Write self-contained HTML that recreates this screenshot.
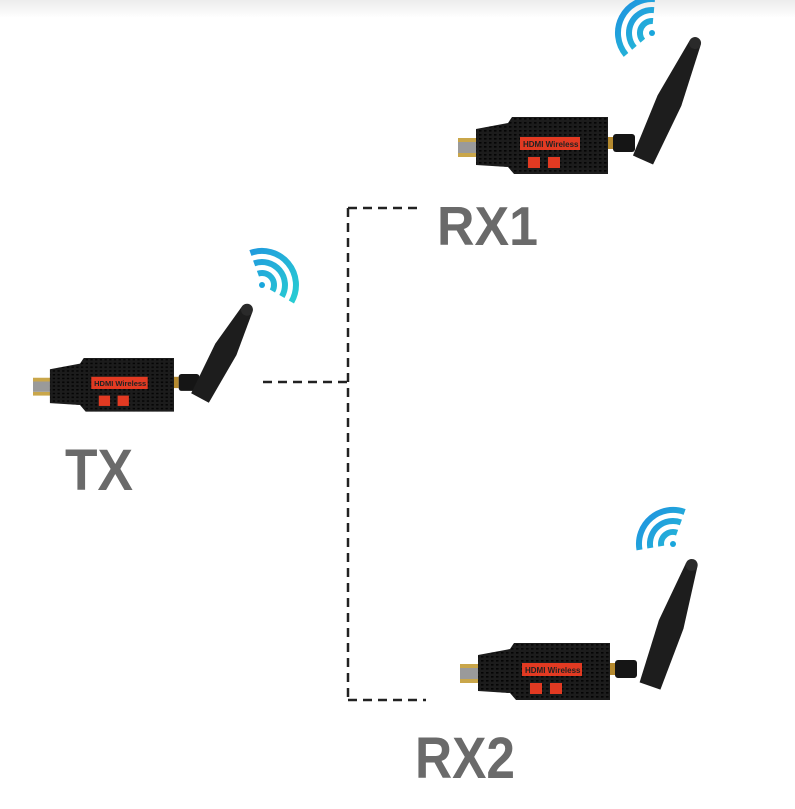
<!DOCTYPE html>
<html><head><meta charset="utf-8"><style>
html,body{margin:0;padding:0;background:#fff;}
svg{display:block}
text.l{font-family:"Liberation Sans",sans-serif;font-weight:bold;fill:#6a6a6a;}
</style></head><body>
<svg width="795" height="809" viewBox="0 0 795 809" xmlns="http://www.w3.org/2000/svg">
<defs>
<linearGradient id="top" x1="0" y1="0" x2="0" y2="1"><stop offset="0" stop-color="#ececec"/><stop offset="1" stop-color="#fff"/></linearGradient>
<linearGradient id="wf" gradientUnits="userSpaceOnUse" x1="-34" y1="-34" x2="34" y2="34"><stop offset="0" stop-color="#1e8fe0"/><stop offset="1" stop-color="#2ad6d0"/></linearGradient>
<pattern id="dots" width="5" height="4" patternUnits="userSpaceOnUse"><rect width="5" height="4" fill="#1c1c1c"/><rect x="1" y="1" width="2.5" height="1.6" fill="#050505"/></pattern>
<g id="dev">
  <rect x="0" y="21" width="20" height="4" fill="#c9a64a"/>
  <rect x="0" y="36" width="20" height="4" fill="#c9a64a"/>
  <rect x="0" y="25" width="20" height="11" fill="#9a9a9a"/>
  <path d="M18 12 L50 6 L54 0 L150 0 L150 57 L56 57 L50 50 L18 48 Z" fill="url(#dots)"/>
  <rect x="62" y="20" width="60" height="13" fill="#e23a22"/>
  <text x="65" y="30" font-family="Liberation Sans,sans-serif" font-weight="bold" font-size="8" fill="#222">HDMI Wireless</text>
  <rect x="70" y="40" width="12" height="11" fill="#e23a22"/>
  <rect x="90" y="40" width="12" height="11" fill="#e23a22"/>
  <rect x="150" y="20" width="5" height="12" fill="#b58a2f"/>
  <rect x="155" y="17" width="22" height="18" rx="3" fill="#151515"/>
</g>
</defs>
<rect width="795" height="18" fill="url(#top)"/>
<g stroke="#222" stroke-width="2.5" stroke-dasharray="9,6" fill="none">
  <path d="M263 382 H348"/>
  <path d="M348 208 V700"/>
  <path d="M348 208 H422"/>
  <path d="M348 700 H426"/>
</g>
<!-- TX -->
<g transform="translate(33,358) scale(0.94)"><use href="#dev"/></g>
<g transform="translate(200,398) rotate(28)">
  <path d="M-10 0 L-12 -55 L-6 -100 L6 -100 L12 -55 L10 0 Z" fill="#1d1d1d"/>
  <circle cx="0" cy="-100" r="6" fill="#2a2a2a"/>
</g>
<g transform="translate(262,285)" fill="none" stroke="url(#wf)" stroke-width="6">
  <circle r="3" fill="#1aa6dc" stroke="none"/>
  <path d="M-4.1 -11.3 A12 12 0 0 1 10.4 6"/>
  <path d="M-7.9 -21.6 A23 23 0 0 1 19.9 11.5"/>
  <path d="M-11.6 -32 A34 34 0 0 1 29.4 17"/>
</g>
<!-- RX1 -->
<g transform="translate(458,117)"><use href="#dev"/></g>
<g transform="translate(643,160) rotate(24)">
  <path d="M-11 0 L-13 -65 L-6 -128 L6 -128 L13 -65 L11 0 Z" fill="#1d1d1d"/>
  <circle cx="0" cy="-128" r="6" fill="#2a2a2a"/>
</g>
<g transform="translate(652,33)" fill="none" stroke="url(#wf)" stroke-width="6">
  <circle r="3" fill="#1aa6dc" stroke="none"/>
  <path d="M-9.2 7.7 A12 12 0 0 1 1 -12"/>
  <path d="M-17.6 14.8 A23 23 0 0 1 2 -22.9"/>
  <path d="M-26 21.9 A34 34 0 0 1 3 -33.9"/>
</g>
<!-- RX2 -->
<g transform="translate(460,643)"><use href="#dev"/></g>
<g transform="translate(650,686) rotate(19)">
  <path d="M-11 0 L-13 -65 L-6 -128 L6 -128 L13 -65 L11 0 Z" fill="#1d1d1d"/>
  <circle cx="0" cy="-128" r="6" fill="#2a2a2a"/>
</g>
<g transform="translate(673,544)" fill="none" stroke="url(#wf)" stroke-width="6">
  <circle r="3" fill="#1aa6dc" stroke="none"/>
  <path d="M-11.8 2.1 A12 12 0 0 1 4.1 -11.3"/>
  <path d="M-22.7 4 A23 23 0 0 1 7.9 -21.6"/>
  <path d="M-33.5 5.9 A34 34 0 0 1 11.6 -32"/>
</g>
<!-- labels -->
<text class="l" x="437" y="245" font-size="55" textLength="101" lengthAdjust="spacingAndGlyphs">RX1</text>
<text class="l" x="65" y="490" font-size="58" textLength="68" lengthAdjust="spacingAndGlyphs">TX</text>
<text class="l" x="415" y="778" font-size="58" textLength="100" lengthAdjust="spacingAndGlyphs">RX2</text>
</svg>
</body></html>
